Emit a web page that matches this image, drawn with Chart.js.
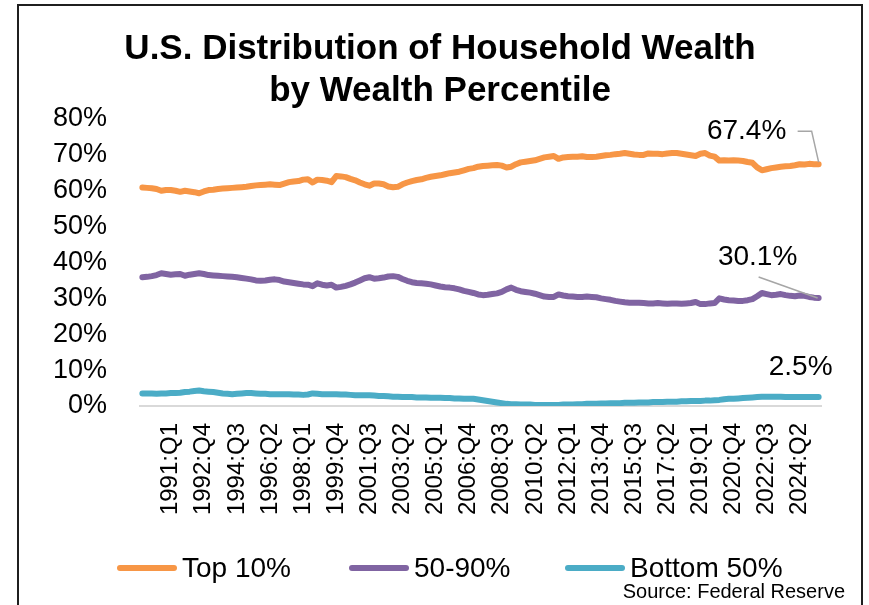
<!DOCTYPE html>
<html><head><meta charset="utf-8">
<script src="https://cdn.jsdelivr.net/npm/chart.js@4.4.1/dist/chart.umd.min.js"></script>
<style>
html,body{margin:0;padding:0;background:#fff;width:869px;height:605px;overflow:hidden;}
#frame{position:absolute;left:17px;top:4px;width:842px;height:700px;border:2px solid #1f1f1f;}
#wrap{position:absolute;left:0;top:0;width:869px;height:605px;}
</style></head><body>
<div id="frame"></div>
<div id="wrap"><canvas id="c" width="869" height="605"></canvas></div>
<script>
// ---------------- DATA ----------------
const quarters = [
"1989:Q3","1989:Q4",
"1990:Q1","1990:Q2","1990:Q3","1990:Q4","1991:Q1","1991:Q2","1991:Q3","1991:Q4",
"1992:Q1","1992:Q2","1992:Q3","1992:Q4","1993:Q1","1993:Q2","1993:Q3","1993:Q4",
"1994:Q1","1994:Q2","1994:Q3","1994:Q4","1995:Q1","1995:Q2","1995:Q3","1995:Q4",
"1996:Q1","1996:Q2","1996:Q3","1996:Q4","1997:Q1","1997:Q2","1997:Q3","1997:Q4",
"1998:Q1","1998:Q2","1998:Q3","1998:Q4","1999:Q1","1999:Q2","1999:Q3","1999:Q4",
"2000:Q1","2000:Q2","2000:Q3","2000:Q4","2001:Q1","2001:Q2","2001:Q3","2001:Q4",
"2002:Q1","2002:Q2","2002:Q3","2002:Q4","2003:Q1","2003:Q2","2003:Q3","2003:Q4",
"2004:Q1","2004:Q2","2004:Q3","2004:Q4","2005:Q1","2005:Q2","2005:Q3","2005:Q4",
"2006:Q1","2006:Q2","2006:Q3","2006:Q4","2007:Q1","2007:Q2","2007:Q3","2007:Q4",
"2008:Q1","2008:Q2","2008:Q3","2008:Q4","2009:Q1","2009:Q2","2009:Q3","2009:Q4",
"2010:Q1","2010:Q2","2010:Q3","2010:Q4","2011:Q1","2011:Q2","2011:Q3","2011:Q4",
"2012:Q1","2012:Q2","2012:Q3","2012:Q4","2013:Q1","2013:Q2","2013:Q3","2013:Q4",
"2014:Q1","2014:Q2","2014:Q3","2014:Q4","2015:Q1","2015:Q2","2015:Q3","2015:Q4",
"2016:Q1","2016:Q2","2016:Q3","2016:Q4","2017:Q1","2017:Q2","2017:Q3","2017:Q4",
"2018:Q1","2018:Q2","2018:Q3","2018:Q4","2019:Q1","2019:Q2","2019:Q3","2019:Q4",
"2020:Q1","2020:Q2","2020:Q3","2020:Q4","2021:Q1","2021:Q2","2021:Q3","2021:Q4",
"2022:Q1","2022:Q2","2022:Q3","2022:Q4","2023:Q1","2023:Q2","2023:Q3","2023:Q4",
"2024:Q1","2024:Q2","2024:Q3","2024:Q4","2025:Q1","2025:Q2"
];

const tickLabels = ["1991:Q1","1992:Q4","1994:Q3","1996:Q2","1998:Q1","1999:Q4","2001:Q3",
"2003:Q2","2005:Q1","2006:Q4","2008:Q3","2010:Q2","2012:Q1","2013:Q4","2015:Q3","2017:Q2",
"2019:Q1","2020:Q4","2022:Q3","2024:Q2"];

const yTicks = [0, 10, 20, 30, 40, 50, 60, 70, 80];

const top10 = [
60.9,60.8,60.7,60.5,60.0,60.2,60.2,60.0,59.7,60.0,
59.8,59.6,59.3,59.8,60.2,60.3,60.5,60.6,60.7,60.8,
60.9,61.0,61.1,61.3,61.5,61.6,61.7,61.8,61.7,61.6,
62.0,62.4,62.6,62.7,63.1,63.2,62.3,63.1,63.0,62.8,
62.4,64.1,64.0,63.8,63.3,62.9,62.3,61.8,61.4,62.0,
62.0,61.8,61.2,61.0,61.1,61.8,62.3,62.7,63.0,63.2,
63.6,63.9,64.1,64.3,64.6,64.9,65.1,65.3,65.7,66.1,
66.3,66.7,66.9,67.0,67.1,67.2,67.0,66.5,66.7,67.4,
67.9,68.1,68.3,68.5,68.9,69.3,69.5,69.7,68.9,69.3,
69.4,69.5,69.5,69.6,69.4,69.4,69.5,69.7,69.9,70.0,
70.2,70.3,70.5,70.3,70.1,70.0,70.0,70.4,70.3,70.3,
70.2,70.4,70.5,70.5,70.3,70.1,69.9,69.7,70.3,70.5,
69.8,69.5,68.4,68.5,68.4,68.5,68.4,68.3,68.0,67.8,
66.5,65.7,66.0,66.3,66.5,66.7,66.8,66.9,67.1,67.4,
67.3,67.5,67.4,67.4
];

const mid50to90 = [
35.9,36.0,36.2,36.5,37.0,36.8,36.6,36.7,36.8,36.3,
36.6,36.8,37.0,36.8,36.5,36.4,36.3,36.2,36.1,36.0,
35.9,35.7,35.5,35.3,35.0,34.9,35.0,35.2,35.3,35.1,
34.7,34.5,34.3,34.1,33.9,33.8,33.4,34.2,33.8,33.6,
33.8,33.0,33.2,33.5,33.9,34.4,35.0,35.6,35.9,35.5,
35.6,35.8,36.1,36.2,36.0,35.4,34.9,34.5,34.3,34.2,
34.1,33.9,33.6,33.3,33.1,33.0,32.8,32.5,32.1,31.8,
31.5,31.1,30.9,31.0,31.2,31.4,31.8,32.5,33.0,32.4,
32.0,31.8,31.6,31.3,30.9,30.5,30.4,30.4,31.1,30.8,
30.6,30.5,30.4,30.4,30.5,30.4,30.3,30.0,29.8,29.6,
29.3,29.1,28.9,28.8,28.8,28.8,28.7,28.6,28.6,28.7,
28.6,28.5,28.6,28.6,28.5,28.6,28.7,29.0,28.4,28.4,
28.6,28.7,30.0,29.7,29.5,29.4,29.3,29.3,29.5,29.8,
30.6,31.5,31.2,30.9,31.0,31.2,30.9,30.7,30.6,30.8,
30.7,30.4,30.2,30.1
];

const bottom50 = [
3.5,3.5,3.5,3.4,3.5,3.5,3.6,3.6,3.7,3.9,
4.0,4.2,4.3,4.1,4.0,3.9,3.7,3.5,3.4,3.3,
3.4,3.5,3.6,3.6,3.5,3.4,3.4,3.3,3.3,3.3,
3.3,3.3,3.2,3.2,3.1,3.2,3.5,3.4,3.3,3.3,
3.3,3.3,3.2,3.2,3.1,3.0,3.0,3.0,3.0,2.9,
2.8,2.8,2.7,2.6,2.6,2.5,2.5,2.5,2.4,2.4,
2.4,2.3,2.3,2.3,2.2,2.2,2.1,2.1,2.0,2.0,
2.0,1.8,1.6,1.4,1.2,1.0,0.8,0.6,0.5,0.5,
0.4,0.4,0.4,0.3,0.3,0.3,0.3,0.3,0.3,0.4,
0.4,0.4,0.5,0.5,0.6,0.6,0.6,0.7,0.7,0.8,
0.8,0.8,0.9,0.9,0.9,1.0,1.0,1.0,1.1,1.1,
1.1,1.2,1.2,1.2,1.3,1.3,1.4,1.4,1.4,1.5,
1.5,1.6,1.7,1.9,2.0,2.0,2.1,2.2,2.3,2.4,
2.5,2.6,2.6,2.6,2.6,2.6,2.5,2.5,2.5,2.5,
2.5,2.5,2.5,2.5
];

const seriesNames = ["Top 10%", "50-90%", "Bottom 50%"];
const seriesColors = ["#F79646", "#8064A2", "#4BACC6"];
const titleLines = ["U.S. Distribution of Household Wealth", "by Wealth Percentile"];
const sourceText = "Source: Federal Reserve";

// ---------------- STYLE / LAYOUT ----------------
const FONT = "'Liberation Sans', Arial, sans-serif";
Chart.defaults.font.family = FONT;
Chart.defaults.color = '#000';

// end-of-line value labels, offsets relative to the last point
const endLabelLayout = [
  { dx: -72, dy: -32.5, leader: [[-21, -33], [-7, -33], [0, -2]] },
  { dx: -61, dy: -41,   leader: [[-60, -21], [-1, 0]] },
  { dx: -18, dy: -30,   leader: null }
];

const legendLayout = { y: 568, lineStart: [120, 352, 568], lineLen: 54, textGap: 8, font: 28 };
const sourceLayout = { x: 845, y: 592, font: 20 };

const endLabels = {
  id: 'endLabels',
  afterDatasetsDraw(chart) {
    const ctx = chart.ctx;
    chart.data.datasets.forEach((ds, di) => {
      const meta = chart.getDatasetMeta(di);
      const pt = meta.data[meta.data.length - 1];
      const cfg = endLabelLayout[di];
      ctx.save();
      if (cfg.leader) {
        ctx.strokeStyle = '#a6a6a6';
        ctx.lineWidth = 1.5;
        ctx.beginPath();
        cfg.leader.forEach((p, k) => {
          const x = pt.x + p[0], y = pt.y + p[1];
          if (k) ctx.lineTo(x, y); else ctx.moveTo(x, y);
        });
        ctx.stroke();
      }
      ctx.font = '28px ' + FONT;
      ctx.fillStyle = '#000';
      ctx.textAlign = 'center';
      ctx.textBaseline = 'middle';
      ctx.fillText(ds.data[ds.data.length - 1].toFixed(1) + '%', pt.x + cfg.dx, pt.y + cfg.dy);
      ctx.restore();
    });
  }
};

const bottomLegend = {
  id: 'bottomLegend',
  afterDraw(chart) {
    const ctx = chart.ctx;
    ctx.save();
    chart.data.datasets.forEach((ds, di) => {
      const x0 = legendLayout.lineStart[di];
      const x1 = x0 + legendLayout.lineLen;
      ctx.strokeStyle = ds.borderColor;
      ctx.lineWidth = 6;
      ctx.lineCap = 'round';
      ctx.beginPath();
      ctx.moveTo(x0, legendLayout.y);
      ctx.lineTo(x1, legendLayout.y);
      ctx.stroke();
      ctx.font = legendLayout.font + 'px ' + FONT;
      ctx.fillStyle = '#000';
      ctx.textAlign = 'left';
      ctx.textBaseline = 'middle';
      ctx.fillText(ds.label, x1 + legendLayout.textGap, legendLayout.y + 1);
    });
    ctx.font = sourceLayout.font + 'px ' + FONT;
    ctx.textAlign = 'right';
    ctx.textBaseline = 'middle';
    ctx.fillStyle = '#000';
    ctx.fillText(sourceText, sourceLayout.x, sourceLayout.y);
    ctx.restore();
  }
};

const seriesData = [top10, mid50to90, bottom50];

new Chart(document.getElementById('c'), {
  type: 'line',
  data: {
    labels: quarters,
    datasets: seriesNames.map((name, i) => ({
      label: name,
      data: seriesData[i],
      borderColor: seriesColors[i],
      backgroundColor: seriesColors[i],
      borderWidth: 6,
      pointRadius: 0,
      tension: 0,
      fill: false,
      borderCapStyle: 'round',
      borderJoinStyle: 'round'
    }))
  },
  options: {
    responsive: false,
    animation: false,
    devicePixelRatio: 1,
    events: [],
    layout: { padding: { left: 11, right: 0, top: 0, bottom: 79 } },
    plugins: {
      legend: { display: false },
      tooltip: { enabled: false },
      title: {
        display: true,
        text: titleLines,
        color: '#000',
        font: { size: 35, weight: 'bold', lineHeight: 1.2 },
        padding: { top: 28, bottom: 7 }
      }
    },
    scales: {
      x: {
        type: 'category',
        offset: true,
        grid: { display: false, drawTicks: false },
        border: { display: true, color: '#d9d9d9', width: 2 },
        ticks: {
          autoSkip: false,
          maxRotation: 90,
          minRotation: 90,
          padding: 17,
          color: '#000',
          font: { size: 24 },
          callback: function (val) {
            const lab = this.getLabelForValue(val);
            return tickLabels.includes(lab) ? lab : '';
          }
        },
        afterFit: s => { s.height = 120; }
      },
      y: {
        min: 0,
        max: 80,
        grid: { display: false, drawTicks: false },
        border: { display: false },
        afterBuildTicks: s => { s.ticks = yTicks.map(v => ({ value: v })); },
        ticks: {
          padding: 33,
          color: '#000',
          font: { size: 27 },
          callback: v => v + '%'
        },
        afterFit: s => { s.width = 129; }
      },
      y2: {
        position: 'right',
        display: true,
        grid: { display: false, drawTicks: false },
        border: { display: false },
        ticks: { display: false },
        afterFit: s => { s.width = 48; }
      }
    }
  },
  plugins: [endLabels, bottomLegend]
});
</script>
</body></html>
